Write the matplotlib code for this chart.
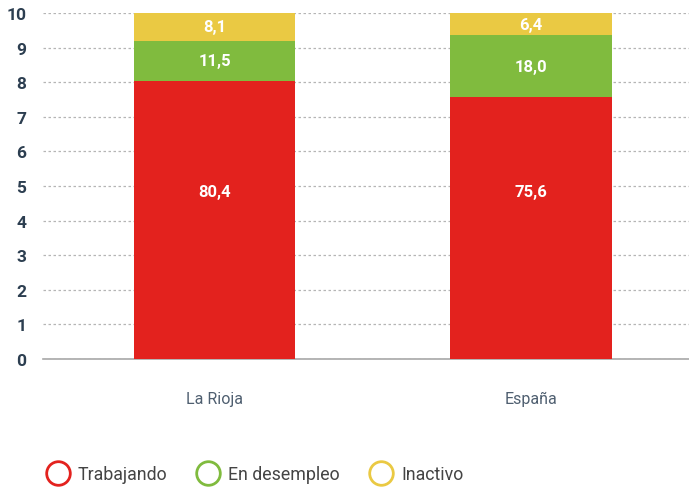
import numpy as np
import matplotlib.pyplot as plt
from matplotlib.lines import Line2D

# Distribución de la población (%), dibujada en escala 0-10
regiones = ['La Rioja', 'España']
trabajando = [80.4, 75.6]
desempleo = [11.5, 18.0]
inactivo = [8.1, 6.4]

series = ['Trabajando', 'En desempleo', 'Inactivo']
colores = ['#e3221e', '#80bb3e', '#eac943']

plt.rcParams['font.family'] = ['Roboto', 'DejaVu Sans']

fig = plt.figure(figsize=(6.89, 4.89), dpi=100)
ax = fig.add_axes([0.0624, 0.2638, 0.9376, 0.7076])

x = np.arange(len(regiones))
ancho = 0.51
base = np.zeros(len(regiones))
for nombre, valores, color in zip(series, [trabajando, desempleo, inactivo], colores):
    alto = np.array(valores) / 10
    ax.bar(x, alto, ancho, bottom=base, color=color, zorder=3)
    for i, v in enumerate(valores):
        # la etiqueta del tramo rojo va algo por encima del centro
        y = 4.85 if nombre == 'Trabajando' else base[i] + alto[i] / 2
        ax.text(x[i], y, f'{v:.1f}'.replace('.', ','), ha='center', va='center',
                color='white', fontsize=12, fontweight='bold', zorder=4)
    base += alto

ax.set_xlim(-0.543, 1.50)
ax.set_ylim(0, 10)
ax.set_yticks(range(0, 11))
ax.set_xticks(x)
ax.set_xticklabels(regiones, fontsize=11.5, color='#4f5f70')
ax.tick_params(axis='x', length=0, pad=23)
ax.tick_params(axis='y', length=0, pad=12, labelsize=12.5, labelcolor='#2c3e50')
for lbl in ax.get_yticklabels():
    lbl.set_fontweight('bold')

ax.grid(axis='y', linestyle=(0, (2, 2)), color='#b5b5b5', linewidth=0.9, zorder=0)
for lado in ['top', 'right', 'left']:
    ax.spines[lado].set_visible(False)
ax.spines['bottom'].set_color('#a8a8a8')
ax.spines['bottom'].set_linewidth(1.2)

handles = [Line2D([], [], marker='o', linestyle='none', markersize=17,
                  markerfacecolor='none', markeredgecolor=c, markeredgewidth=2)
           for c in colores]
fig.legend(handles, series, loc='center left', bbox_to_anchor=(0.0435, 0.029),
           ncol=3, frameon=False, fontsize=12.8, handlelength=1.3,
           handletextpad=0.45, columnspacing=1.7, labelcolor='#444444')

fig.savefig('out.png', dpi=100)
